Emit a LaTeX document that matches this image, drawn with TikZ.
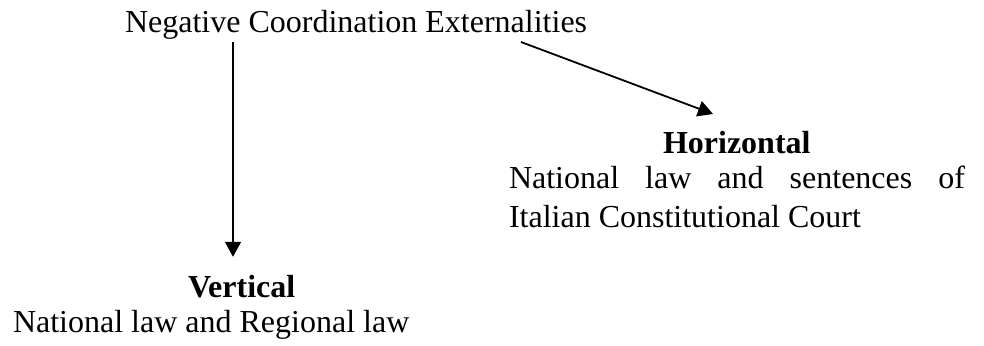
\documentclass[tikz,border=0pt]{standalone}
\usepackage{fontspec}
\setmainfont{Liberation Serif}
\usetikzlibrary{arrows.meta,calc}
\begin{document}
\begin{tikzpicture}[x=1pt,y=-1pt,
  txt/.style={inner sep=0pt,outer sep=0pt,anchor=base west,font=\fontsize{32}{39}\selectfont},
  ttl/.style={txt,font=\fontsize{32}{39}\selectfont\bfseries},
  arr/.style={line width=1.8pt,-{Triangle[length=15pt,width=16pt]}}]
\useasboundingbox (0,0) rectangle (984,345);
\node[txt] (top) at (125,33) {Negative Coordination Externalities};
\node[ttl] (hor) at (663,153) {Horizontal};
\node[txt] (hl1) at (509,188) {\makebox[456pt][s]{National law and sentences of}};
\node[txt] (hl2) at (509,227) {Italian Constitutional Court};
\node[ttl] (ver) at (188,297) {Vertical};
\node[txt] (vl1) at (13,332) {National law and Regional law};
\coordinate (vx) at (233,0);
\coordinate (hs) at (521,42);
\coordinate (he) at (713,114);
\draw[arr,shorten <=2pt,shorten >=18pt] (top.south -| vx) -- (ver.north -| vx);
\draw[arr] (hs) -- (he);
\end{tikzpicture}
\end{document}
